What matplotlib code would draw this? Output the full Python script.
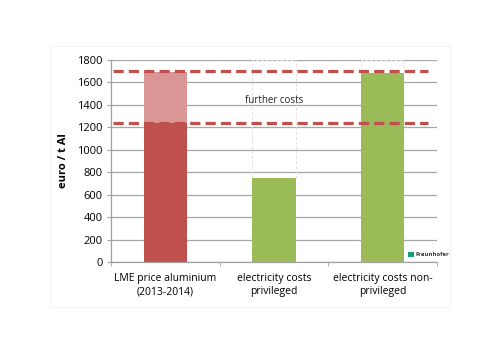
import matplotlib
matplotlib.use("Agg")
import matplotlib.pyplot as plt
from matplotlib.patches import Rectangle

categories = ["LME price aluminium\n(2013-2014)", "electricity costs\nprivileged", "electricity costs non-\nprivileged"]
base_values = [1240, 750, 1680]
further_costs = [450, 0, 0]
ref_lines = [1240, 1700]
y_ticks = [0, 200, 400, 600, 800, 1000, 1200, 1400, 1600, 1800]

plt.rcParams['font.family'] = ['Open Sans', 'DejaVu Sans']

fig = plt.figure(figsize=(4.98, 3.52), dpi=100)
# faint frame
fig.patches.append(Rectangle((50/498, 1-307/352), 400/498, (307-46)/352,
                             transform=fig.transFigure, fill=False,
                             edgecolor="#F3F3F3", linewidth=0.8))
ax = fig.add_axes([111/498, 1-262/352, 326/498, 202/352])

x = list(range(len(categories)))
base_colors = ["#C0504D", "#9BBB59", "#9BBB59"]
width = 0.4
ax.bar(x, base_values, width=width, color=base_colors, zorder=2)
ax.bar(x, further_costs, width=width, bottom=base_values, color="#D99694", zorder=2)

# invisible remainder segments with light dashed outlines
for i in [1, 2]:
    ax.bar(x[i], 1800 - base_values[i], width=width, bottom=base_values[i],
           facecolor="none", edgecolor="#E0E0E0", linestyle=(0, (3, 2)),
           linewidth=0.7, zorder=1.5)

for v in ref_lines:
    ax.plot([-0.48, 2.42], [v, v], color="#C0504D", linewidth=2.3,
            dashes=(3.2, 1.6), zorder=3, solid_capstyle="butt")

ax.text(1.0, 1440, "further costs", fontsize=7, ha="center", va="center",
        color="#222222", zorder=4)

ax.set_xlim(-0.5, 2.5)
ax.set_ylim(0, 1800)
ax.set_yticks(y_ticks)
ax.set_yticklabels([str(t) for t in y_ticks], fontsize=8)
ax.set_xticks(x)
ax.set_xticklabels(categories, fontsize=7.5, linespacing=1.25)
ax.tick_params(axis='x', length=0, pad=8)
ax.set_xticks([-0.5, 0.5, 1.5, 2.5], minor=True)
ax.tick_params(axis='x', which='minor', length=3, color="#A0A0A0")
ax.tick_params(axis='y', length=3, color="#A0A0A0", pad=3)
ax.grid(axis='y', color="#A6A6A6", linewidth=0.9, zorder=0)
ax.set_axisbelow(True)
for s in ["top", "right"]:
    ax.spines[s].set_visible(False)
ax.spines["left"].set_color("#A0A0A0")
ax.spines["bottom"].set_color("#A0A0A0")
ax.spines["left"].set_linewidth(0.9)
ax.spines["bottom"].set_linewidth(0.9)

fig.text(63/498, 1-161/352, "euro / t Al", rotation=90, fontsize=8,
         fontweight="bold", ha="center", va="center")

# Fraunhofer logo
fig.patches.append(Rectangle((408/498, 1-257/352), 6/498, 5/352,
                             transform=fig.transFigure, facecolor="#179C7D",
                             edgecolor="none"))
fig.text(415/498, 1-254.5/352, "Fraunhofer", fontsize=4.2, ha="left",
         va="center", color="#333333", fontweight="bold")

fig.savefig("out.png", dpi=100)
